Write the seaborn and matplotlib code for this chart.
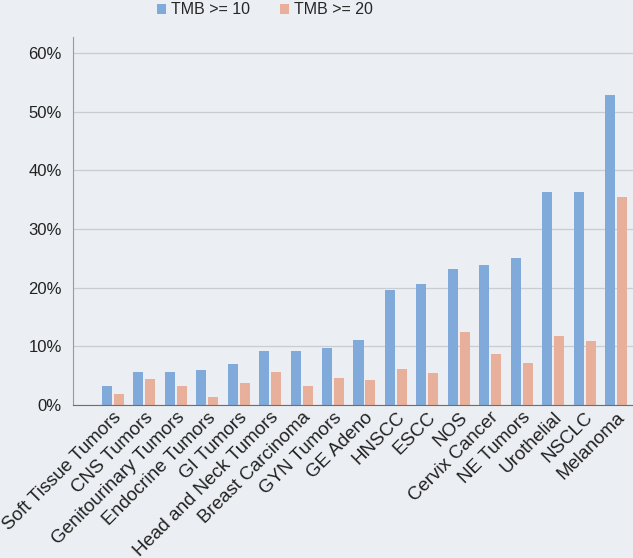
import pandas as pd
import matplotlib
matplotlib.use("Agg")
import matplotlib.pyplot as plt
import seaborn as sns
from matplotlib.ticker import PercentFormatter

categories = ["Soft Tissue Tumors", "CNS Tumors", "Genitourinary Tumors", "Endocrine Tumors",
              "GI Tumors", "Head and Neck Tumors", "Breast Carcinoma", "GYN Tumors", "GE Adeno",
              "HNSCC", "ESCC", "NOS", "Cervix Cancer", "NE Tumors", "Urothelial", "NSCLC", "Melanoma"]
tmb10 = [3.2, 5.6, 5.6, 6.0, 7.0, 9.2, 9.2, 9.7, 11.1, 19.6, 20.6, 23.2, 23.9, 25.0, 36.3, 36.3, 52.8]
tmb20 = [1.9, 4.4, 3.2, 1.4, 3.7, 5.6, 3.2, 4.6, 4.3, 6.1, 5.5, 12.4, 8.7, 7.2, 11.8, 10.9, 35.4]
series = ["TMB >= 10", "TMB >= 20"]

df = pd.DataFrame({
    "category": categories * 2,
    "series": [series[0]] * len(categories) + [series[1]] * len(categories),
    "value": [v / 100 for v in tmb10 + tmb20],
})

sns.set_style("white")
plt.rcParams["font.family"] = ["Liberation Sans", "DejaVu Sans"]

bg = "#ebeef2"
fig = plt.figure(figsize=(6.33, 5.58), dpi=100, facecolor=bg)
ax = fig.add_axes([73 / 633, 153 / 558, 560 / 633, 368 / 558])
ax.set_facecolor(bg)

sns.barplot(data=df, x="category", y="value", hue="series", ax=ax,
            palette=["#80aad9", "#e8af9b"], width=0.76, gap=0.16, saturation=1,
            linewidth=0)

ax.set_ylim(0, 0.627)
ax.set_yticks([0, 0.1, 0.2, 0.3, 0.4, 0.5, 0.6])
ax.yaxis.set_major_formatter(PercentFormatter(1.0, decimals=0))
ax.grid(axis="y", color="#c9ccd1", linewidth=0.9)
ax.set_axisbelow(True)
ax.set_xlabel("")
ax.set_ylabel("")
ax.set_xlim(-1.27, 16.54)

for s in ["top", "right"]:
    ax.spines[s].set_visible(False)
ax.spines["left"].set_color("#9a9a9a")
ax.spines["bottom"].set_color("#6f6f6f")

ax.tick_params(axis="y", labelsize=12, colors="#222222", length=0, pad=8)
ax.tick_params(axis="x", labelsize=13.5, colors="#222222", length=0, pad=3)
plt.setp(ax.get_xticklabels(), rotation=45, ha="right", rotation_mode="anchor")

handles, labels = ax.get_legend_handles_labels()
ax.get_legend().remove()
fig.legend(handles, labels, loc="center", bbox_to_anchor=(265 / 633, 1 - 10 / 558), ncol=2,
           frameon=False, fontsize=11.5, handlelength=0.55, handleheight=0.55,
           handletextpad=0.3, columnspacing=1.9, borderpad=0)

fig.savefig("out.png", dpi=100, facecolor=bg)
